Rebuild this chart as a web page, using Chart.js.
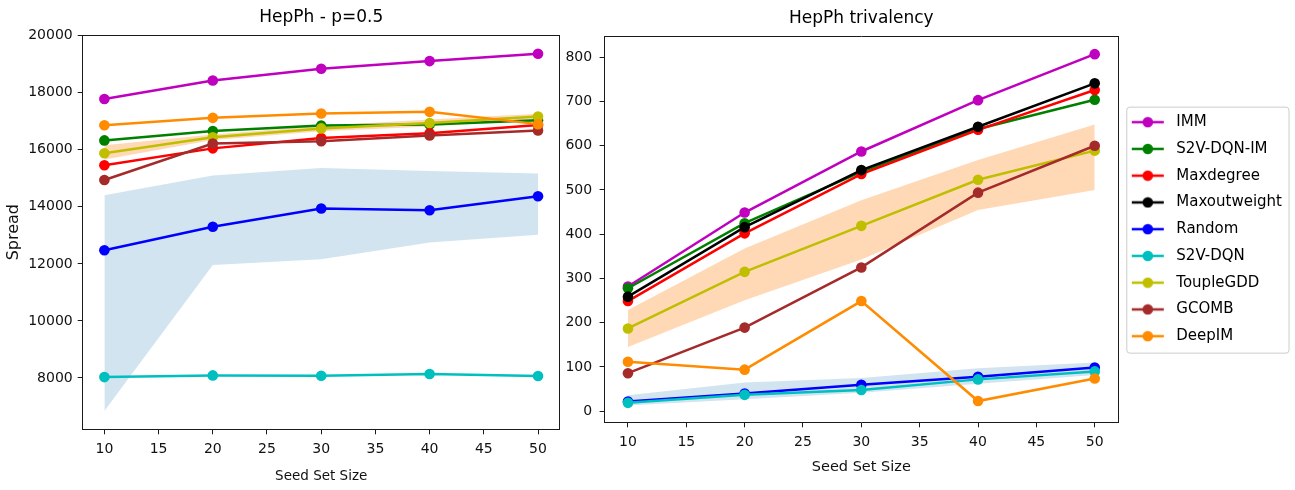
<!DOCTYPE html>
<html>
<head>
<meta charset="utf-8">
<script src="https://cdn.jsdelivr.net/npm/chart.js@4.4.1/dist/chart.umd.min.js"></script>
<style>
  html, body { margin: 0; padding: 0; background: #ffffff; }
  body { width: 1295px; height: 490px; position: relative; overflow: hidden; }
  #wrapL { position: absolute; left: 0; top: 0; width: 565px; height: 490px; }
  #wrapR { position: absolute; left: 563px; top: 0; width: 732px; height: 490px; }
</style>
</head>
<body>
<div id="wrapL"><canvas id="left"></canvas></div>
<div id="wrapR"><canvas id="right"></canvas></div>
<script>
// ---------------- data ----------------
const seedSizes = [10, 20, 30, 40, 50];
const xTicks = [10, 15, 20, 25, 30, 35, 40, 45, 50];
const leftYTicks = [8000, 10000, 12000, 14000, 16000, 18000, 20000];
const rightYTicks = [0, 100, 200, 300, 400, 500, 600, 700, 800];

const methods = ["IMM", "S2V-DQN-IM", "Maxdegree", "Maxoutweight", "Random", "S2V-DQN", "ToupleGDD", "GCOMB", "DeepIM"];
const methodColors = ["#bf00bf", "#008000", "#ff0000", "#000000", "#0000ff", "#00bfbf", "#bfbf00", "#a52a2a", "#ff8c00"];

// Left panel: HepPh - p=0.5
const leftIMM         = [17780, 18430, 18840, 19110, 19370];
const leftS2VDQNIM    = [16330, 16660, 16850, 16890, 17040];
const leftMaxdegree   = [15460, 16050, 16410, 16580, 16870];
const leftRandom      = [12480, 13300, 13940, 13880, 14370];
const leftS2VDQN      = [8030, 8090, 8080, 8140, 8070];
const leftToupleGDD   = [15880, 16440, 16750, 16940, 17170];
const leftGCOMB       = [14940, 16220, 16300, 16500, 16680];
const leftDeepIM      = [16860, 17120, 17270, 17330, 16900];
const leftRandomUpper = [14410, 15100, 15360, 15260, 15170];
const leftRandomLower = [6840, 11960, 12160, 12750, 13020];
const leftToupleUpper = [16160, 16540, 16840, 17060, 17260];
const leftToupleLower = [15660, 16340, 16650, 16820, 17080];

// Right panel: HepPh trivalency
const rightIMM          = [282, 449, 587, 703, 807];
const rightS2VDQNIM     = [278, 425, 541, 638, 704];
const rightMaxdegree    = [249, 402, 536, 636, 726];
const rightMaxoutweight = [259, 416, 545, 643, 741];
const rightRandom       = [22, 40, 60, 78, 99];
const rightS2VDQN       = [19, 37, 48, 72, 90];
const rightToupleGDD    = [187, 315, 419, 523, 589];
const rightGCOMB        = [86, 189, 325, 494, 600];
const rightDeepIM       = [112, 94, 249, 23, 74];
const rightRandomUpper  = [36, 65, 75, 97, 110];
const rightRandomLower  = [13, 27, 42, 62, 82];
const rightToupleUpper  = [229, 368, 477, 568, 648];
const rightToupleLower  = [145, 251, 343, 455, 500];

// ---------------- helpers ----------------
Chart.defaults.font.family = "'DejaVu Sans', 'Liberation Sans', sans-serif";
Chart.defaults.color = "#111111";

const AXIS_COLOR = "#1a1a1a";
const toXY = (arr) => seedSizes.map((x, i) => ({ x: x, y: arr[i] }));

function lineDataset(idx, values) {
  return {
    label: methods[idx],
    data: toXY(values),
    xAxisID: "x", yAxisID: "y",
    borderColor: methodColors[idx],
    backgroundColor: methodColors[idx],
    pointBackgroundColor: methodColors[idx],
    pointBorderColor: methodColors[idx],
    borderWidth: 2.5,
    pointRadius: 5.3,
    pointBorderWidth: 0,
    fill: false,
    tension: 0,
    order: -idx
  };
}
function bandDatasets(lower, upper, color, label) {
  return [
    { label: label + "_lo", isBand: true, data: toXY(lower), xAxisID: "x", yAxisID: "y", borderWidth: 0, pointRadius: 0, fill: false, order: 100 },
    { label: label + "_hi", isBand: true, data: toXY(upper), xAxisID: "x", yAxisID: "y", borderWidth: 0, pointRadius: 0, backgroundColor: color, fill: "-1", order: 100 }
  ];
}

const legendBorderPlugin = {
  id: "legendBorder",
  beforeDraw(chart) {
    const lg = chart.legend;
    if (!lg || !lg.legendHitBoxes || !lg.legendHitBoxes.length) return;
    const hb = lg.legendHitBoxes;
    let L = Infinity, R = -Infinity;
    hb.forEach(h => { L = Math.min(L, h.left); R = Math.max(R, h.left + h.width); });
    const T = hb[0].top - 7.5, B = hb[hb.length - 1].top + hb[hb.length - 1].height + 9.5;
    L -= 3; R += 7;
    const ctx = chart.ctx, r = 3;
    ctx.save();
    ctx.beginPath();
    ctx.moveTo(L + r, T); ctx.lineTo(R - r, T); ctx.quadraticCurveTo(R, T, R, T + r);
    ctx.lineTo(R, B - r); ctx.quadraticCurveTo(R, B, R - r, B);
    ctx.lineTo(L + r, B); ctx.quadraticCurveTo(L, B, L, B - r);
    ctx.lineTo(L, T + r); ctx.quadraticCurveTo(L, T, L + r, T);
    ctx.closePath();
    ctx.fillStyle = "#ffffff";
    ctx.fill();
    ctx.strokeStyle = "#cccccc";
    ctx.lineWidth = 1;
    ctx.stroke();
    ctx.restore();
  }
};

function handleImage(color) {
  const c = document.createElement("canvas");
  c.width = 39; c.height = 12;
  const g = c.getContext("2d");
  g.strokeStyle = color; g.lineWidth = 2.5;
  g.beginPath(); g.moveTo(2, 6); g.lineTo(34, 6); g.stroke();
  g.fillStyle = color;
  g.beginPath(); g.arc(18, 6, 5.3, 0, Math.PI * 2); g.fill();
  return c;
}

function frameScale(position, isX, min, max) {
  return {
    type: "linear", position: position, min: min, max: max, display: true,
    ticks: { display: false },
    grid: { display: false, drawTicks: false, drawOnChartArea: false },
    border: { display: true, color: AXIS_COLOR, width: 1 },
    title: { display: false },
    afterFit: (s) => { if (isX) { s.height = 0; } else { s.width = 0; } }
  };
}

function makeOptions(cfg) {
  return {
    responsive: true,
    maintainAspectRatio: false,
    animation: false,
    layout: { padding: cfg.padding },
    plugins: {
      title: {
        display: true, text: cfg.title, fullSize: false,
        font: { size: 17, weight: "normal" }, color: "#000000",
        padding: cfg.titlePadding
      },
      legend: cfg.legend,
      tooltip: { enabled: false }
    },
    scales: {
      x: {
        type: "linear", position: "bottom", min: 8, max: 52,
        afterBuildTicks: (s) => { s.ticks = xTicks.map(v => ({ value: v })); },
        afterFit: (s) => { s.height = cfg.xHeight; },
        grid: { display: true, drawOnChartArea: false, drawTicks: true, tickLength: 5, color: AXIS_COLOR },
        border: { display: true, color: AXIS_COLOR, width: 1 },
        ticks: { font: { size: 14 }, color: "#111111", padding: 7, maxRotation: 0, callback: (v) => String(v) },
        title: { display: true, text: "Seed Set Size", font: { size: cfg.xTitleSize }, color: "#111111", padding: { top: 0, bottom: cfg.xTitleBottom } }
      },
      y: {
        type: "linear", position: "left", min: cfg.yMin, max: cfg.yMax,
        afterBuildTicks: (s) => { s.ticks = cfg.yTicks.map(v => ({ value: v })); },
        afterFit: (s) => { s.width = cfg.yWidth; },
        grid: { display: true, drawOnChartArea: false, drawTicks: true, tickLength: 5, color: AXIS_COLOR },
        border: { display: true, color: AXIS_COLOR, width: 1 },
        ticks: { font: { size: 14 }, color: "#111111", padding: cfg.yTickPad, callback: (v) => String(v) },
        title: cfg.yTitle
      },
      xTop: frameScale("top", true, 8, 52),
      yRight: frameScale("right", false, cfg.yMin, cfg.yMax)
    }
  };
}

// ---------------- left chart ----------------
const leftDatasets = [
  ...bandDatasets(leftRandomLower, leftRandomUpper, "rgba(31,119,180,0.2)", "Random band"),
  ...bandDatasets(leftToupleLower, leftToupleUpper, "rgba(255,127,14,0.3)", "ToupleGDD band"),
  lineDataset(0, leftIMM),
  lineDataset(1, leftS2VDQNIM),
  lineDataset(2, leftMaxdegree),
  lineDataset(4, leftRandom),
  lineDataset(5, leftS2VDQN),
  lineDataset(6, leftToupleGDD),
  lineDataset(7, leftGCOMB),
  lineDataset(8, leftDeepIM)
];

new Chart(document.getElementById("left"), {
  type: "line",
  data: { datasets: leftDatasets },
  options: makeOptions({
    title: "HepPh - p=0.5",
    titlePadding: { top: 7, bottom: 7.6 },
    padding: { left: 0, right: 3, top: 0, bottom: 0 },
    legend: { display: false },
    xHeight: 60.7, xTitleSize: 13.5, xTitleBottom: 5.9,
    yMin: 6200, yMax: 20025, yTicks: leftYTicks, yWidth: 82.7, yTickPad: 5,
    yTitle: { display: true, text: "Spread", font: { size: 16 }, color: "#111111", padding: { top: 4.4, bottom: 0 } }
  })
});

// ---------------- right chart ----------------
const rightDatasets = [
  ...bandDatasets(rightRandomLower, rightRandomUpper, "rgba(31,119,180,0.2)", "Random band"),
  ...bandDatasets(rightToupleLower, rightToupleUpper, "rgba(255,127,14,0.3)", "ToupleGDD band"),
  lineDataset(0, rightIMM),
  lineDataset(1, rightS2VDQNIM),
  lineDataset(2, rightMaxdegree),
  lineDataset(3, rightMaxoutweight),
  lineDataset(4, rightRandom),
  lineDataset(5, rightS2VDQN),
  lineDataset(6, rightToupleGDD),
  lineDataset(7, rightGCOMB),
  lineDataset(8, rightDeepIM)
];

new Chart(document.getElementById("right"), {
  type: "line",
  data: { datasets: rightDatasets },
  options: makeOptions({
    title: "HepPh trivalency",
    titlePadding: { top: 8, bottom: 7.6 },
    padding: { left: 0, right: 3, top: 0, bottom: 0 },
    legend: {
      display: true, position: "right", fullSize: false, align: "center", maxWidth: 400,
      labels: {
        usePointStyle: true, pointStyleWidth: 39, padding: 11.75,
        font: { size: 15 }, color: "#111111",
        generateLabels: (chart) => chart.data.datasets
          .map((ds, i) => ({ ds, i }))
          .filter(o => !o.ds.isBand)
          .map(o => ({
            text: o.ds.label,
            pointStyle: handleImage(o.ds.borderColor),
            fillStyle: o.ds.borderColor,
            strokeStyle: o.ds.borderColor,
            lineWidth: 0,
            hidden: false,
            datasetIndex: o.i
          }))
      }
    },
    xHeight: 67.7, xTitleSize: 14.5, xTitleBottom: 13.6,
    yMin: -25, yMax: 848, yTicks: rightYTicks, yWidth: 41.6, yTickPad: 7.5,
    yTitle: { display: false }
  }),
  plugins: [legendBorderPlugin]
});
</script>
</body>
</html>
